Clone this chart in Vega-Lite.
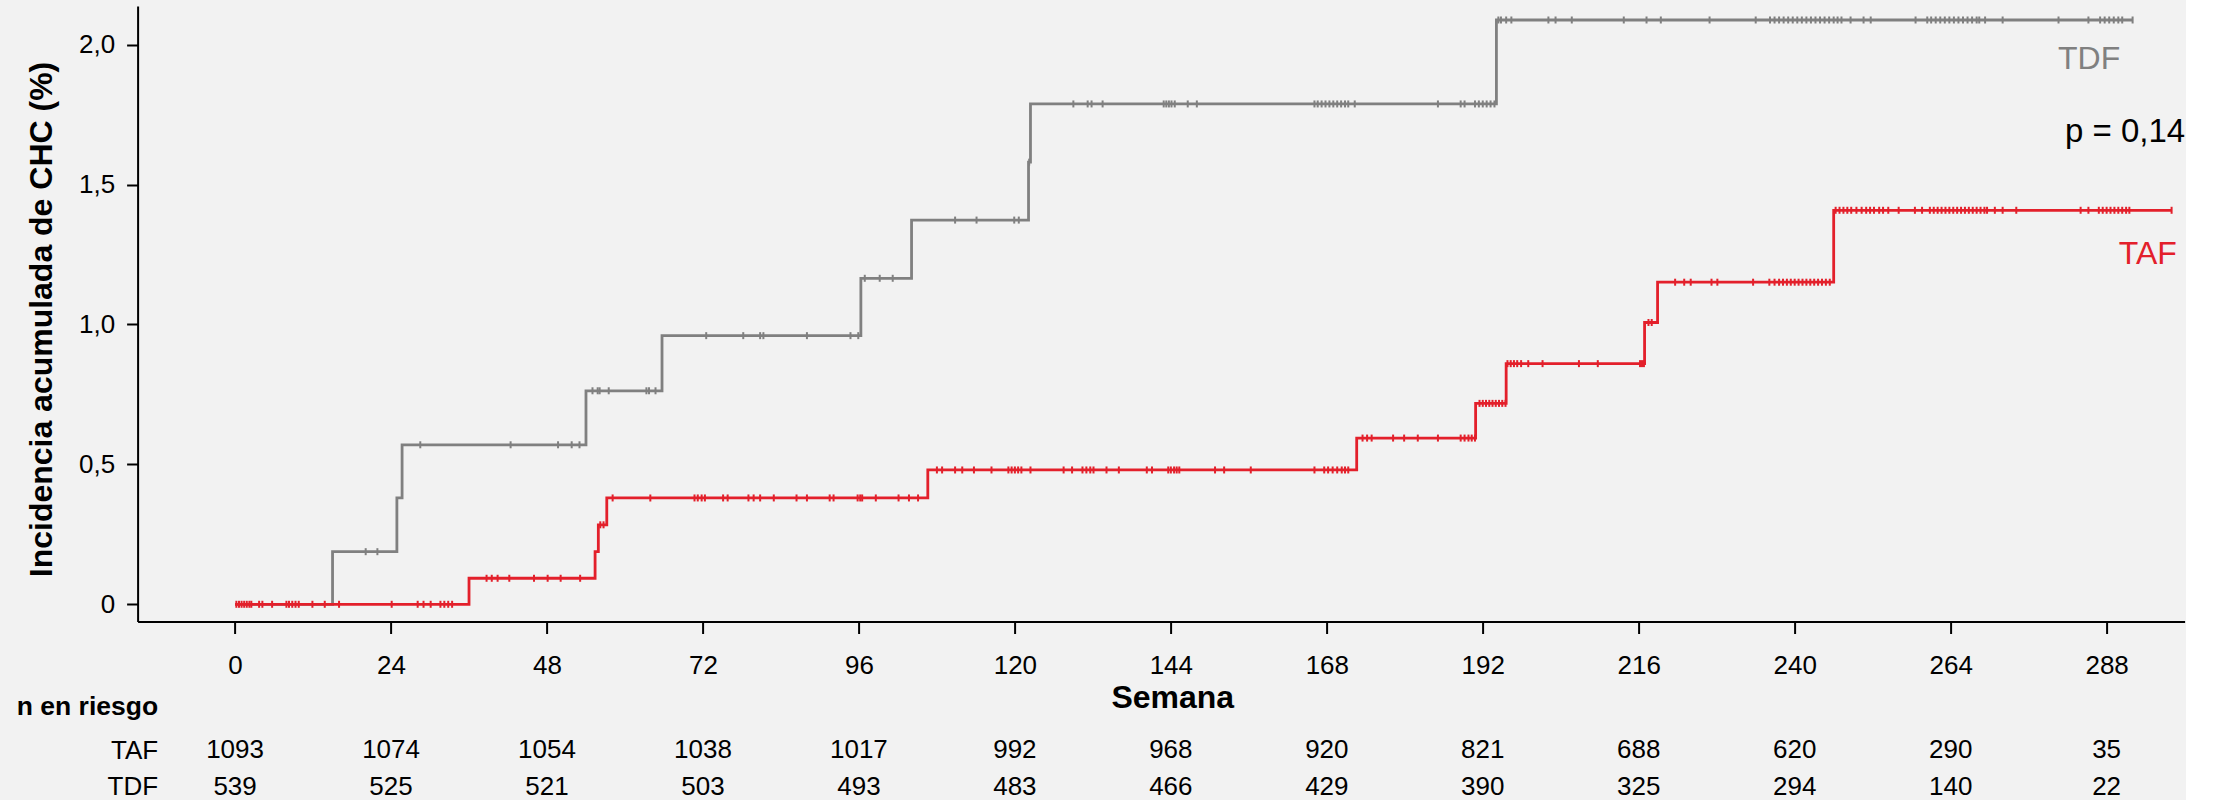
{
  "$schema": "https://vega.github.io/schema/vega-lite/v6.json",
  "background": "#f2f2f2",
  "padding": {"left": 15.6, "top": 6, "right": 0, "bottom": 0},
  "config": {
    "font": "Liberation Sans",
    "view": {"stroke": null},
    "axis": {"grid": false, "domainColor": "#000000", "tickColor": "#000000", "labelColor": "#000000", "titleColor": "#000000"}
  },
  "datasets": {
    "pasos": [
      {"grupo": "TDF", "semana": 0, "inc": 0},
      {"grupo": "TDF", "semana": 15.0, "inc": 0.188},
      {"grupo": "TDF", "semana": 24.9, "inc": 0.380},
      {"grupo": "TDF", "semana": 25.7, "inc": 0.570},
      {"grupo": "TDF", "semana": 54.0, "inc": 0.763},
      {"grupo": "TDF", "semana": 65.7, "inc": 0.960},
      {"grupo": "TDF", "semana": 96.3, "inc": 1.165},
      {"grupo": "TDF", "semana": 104.1, "inc": 1.373},
      {"grupo": "TDF", "semana": 122.1, "inc": 1.580},
      {"grupo": "TDF", "semana": 122.4, "inc": 1.788},
      {"grupo": "TDF", "semana": 194.1, "inc": 2.088},
      {"grupo": "TDF", "semana": 292.0, "inc": 2.088},
      {"grupo": "TAF", "semana": 0, "inc": 0},
      {"grupo": "TAF", "semana": 36.0, "inc": 0.093},
      {"grupo": "TAF", "semana": 55.4, "inc": 0.188},
      {"grupo": "TAF", "semana": 55.9, "inc": 0.284},
      {"grupo": "TAF", "semana": 57.2, "inc": 0.380},
      {"grupo": "TAF", "semana": 106.6, "inc": 0.480},
      {"grupo": "TAF", "semana": 172.6, "inc": 0.594},
      {"grupo": "TAF", "semana": 190.9, "inc": 0.718},
      {"grupo": "TAF", "semana": 195.6, "inc": 0.860},
      {"grupo": "TAF", "semana": 216.9, "inc": 1.007},
      {"grupo": "TAF", "semana": 218.9, "inc": 1.151},
      {"grupo": "TAF", "semana": 246.0, "inc": 1.408},
      {"grupo": "TAF", "semana": 298.0, "inc": 1.408}
    ],
    "censura": [
      {"grupo": "TDF", "semana": 20.1, "inc": 0.188}, {"grupo": "TDF", "semana": 21.9, "inc": 0.188},
      {"grupo": "TDF", "semana": 28.5, "inc": 0.570}, {"grupo": "TDF", "semana": 42.4, "inc": 0.570}, {"grupo": "TDF", "semana": 49.7, "inc": 0.570}, {"grupo": "TDF", "semana": 51.8, "inc": 0.570}, {"grupo": "TDF", "semana": 53.0, "inc": 0.570},
      {"grupo": "TDF", "semana": 55.0, "inc": 0.763}, {"grupo": "TDF", "semana": 55.8, "inc": 0.763}, {"grupo": "TDF", "semana": 56.1, "inc": 0.763}, {"grupo": "TDF", "semana": 57.5, "inc": 0.763}, {"grupo": "TDF", "semana": 63.3, "inc": 0.763}, {"grupo": "TDF", "semana": 63.7, "inc": 0.763}, {"grupo": "TDF", "semana": 64.7, "inc": 0.763},
      {"grupo": "TDF", "semana": 72.5, "inc": 0.960}, {"grupo": "TDF", "semana": 78.2, "inc": 0.960}, {"grupo": "TDF", "semana": 80.8, "inc": 0.960}, {"grupo": "TDF", "semana": 81.3, "inc": 0.960}, {"grupo": "TDF", "semana": 88.0, "inc": 0.960}, {"grupo": "TDF", "semana": 94.7, "inc": 0.960}, {"grupo": "TDF", "semana": 95.9, "inc": 0.960},
      {"grupo": "TDF", "semana": 96.9, "inc": 1.165}, {"grupo": "TDF", "semana": 99.2, "inc": 1.165}, {"grupo": "TDF", "semana": 101.2, "inc": 1.165},
      {"grupo": "TDF", "semana": 110.8, "inc": 1.373}, {"grupo": "TDF", "semana": 114.1, "inc": 1.373}, {"grupo": "TDF", "semana": 119.9, "inc": 1.373}, {"grupo": "TDF", "semana": 120.6, "inc": 1.373},
      {"grupo": "TDF", "semana": 122.2, "inc": 1.580},
      {"grupo": "TDF", "semana": 129.0, "inc": 1.788}, {"grupo": "TDF", "semana": 131.2, "inc": 1.788}, {"grupo": "TDF", "semana": 131.8, "inc": 1.788}, {"grupo": "TDF", "semana": 133.5, "inc": 1.788},
      {"grupo": "TDF", "semana": 142.9, "inc": 1.788}, {"grupo": "TDF", "semana": 143.3, "inc": 1.788}, {"grupo": "TDF", "semana": 143.7, "inc": 1.788}, {"grupo": "TDF", "semana": 144.1, "inc": 1.788}, {"grupo": "TDF", "semana": 144.6, "inc": 1.788},
      {"grupo": "TDF", "semana": 146.6, "inc": 1.788}, {"grupo": "TDF", "semana": 148.0, "inc": 1.788},
      {"grupo": "TDF", "semana": 166.1, "inc": 1.788}, {"grupo": "TDF", "semana": 166.6, "inc": 1.788}, {"grupo": "TDF", "semana": 167.2, "inc": 1.788}, {"grupo": "TDF", "semana": 167.8, "inc": 1.788}, {"grupo": "TDF", "semana": 168.4, "inc": 1.788}, {"grupo": "TDF", "semana": 169.0, "inc": 1.788}, {"grupo": "TDF", "semana": 169.6, "inc": 1.788}, {"grupo": "TDF", "semana": 170.2, "inc": 1.788}, {"grupo": "TDF", "semana": 170.8, "inc": 1.788}, {"grupo": "TDF", "semana": 171.3, "inc": 1.788},
      {"grupo": "TDF", "semana": 172.3, "inc": 1.788}, {"grupo": "TDF", "semana": 185.1, "inc": 1.788}, {"grupo": "TDF", "semana": 188.6, "inc": 1.788}, {"grupo": "TDF", "semana": 189.2, "inc": 1.788},
      {"grupo": "TDF", "semana": 190.8, "inc": 1.788}, {"grupo": "TDF", "semana": 191.4, "inc": 1.788}, {"grupo": "TDF", "semana": 192.0, "inc": 1.788}, {"grupo": "TDF", "semana": 192.6, "inc": 1.788}, {"grupo": "TDF", "semana": 193.2, "inc": 1.788}, {"grupo": "TDF", "semana": 193.8, "inc": 1.788},
      {"grupo": "TDF", "semana": 194.4, "inc": 2.088}, {"grupo": "TDF", "semana": 194.8, "inc": 2.088}, {"grupo": "TDF", "semana": 195.6, "inc": 2.088}, {"grupo": "TDF", "semana": 196.4, "inc": 2.088}, {"grupo": "TDF", "semana": 202.1, "inc": 2.088}, {"grupo": "TDF", "semana": 203.2, "inc": 2.088}, {"grupo": "TDF", "semana": 205.7, "inc": 2.088}, {"grupo": "TDF", "semana": 213.7, "inc": 2.088}, {"grupo": "TDF", "semana": 217.2, "inc": 2.088}, {"grupo": "TDF", "semana": 219.4, "inc": 2.088}, {"grupo": "TDF", "semana": 226.9, "inc": 2.088}, {"grupo": "TDF", "semana": 234.0, "inc": 2.088},
      {"grupo": "TDF", "semana": 236.2, "inc": 2.088}, {"grupo": "TDF", "semana": 236.9, "inc": 2.088}, {"grupo": "TDF", "semana": 237.6, "inc": 2.088}, {"grupo": "TDF", "semana": 238.3, "inc": 2.088}, {"grupo": "TDF", "semana": 239.0, "inc": 2.088}, {"grupo": "TDF", "semana": 239.7, "inc": 2.088}, {"grupo": "TDF", "semana": 240.4, "inc": 2.088}, {"grupo": "TDF", "semana": 241.1, "inc": 2.088}, {"grupo": "TDF", "semana": 241.8, "inc": 2.088}, {"grupo": "TDF", "semana": 242.5, "inc": 2.088}, {"grupo": "TDF", "semana": 243.2, "inc": 2.088}, {"grupo": "TDF", "semana": 243.9, "inc": 2.088}, {"grupo": "TDF", "semana": 244.6, "inc": 2.088}, {"grupo": "TDF", "semana": 245.3, "inc": 2.088}, {"grupo": "TDF", "semana": 246.0, "inc": 2.088}, {"grupo": "TDF", "semana": 246.6, "inc": 2.088}, {"grupo": "TDF", "semana": 247.2, "inc": 2.088},
      {"grupo": "TDF", "semana": 248.6, "inc": 2.088}, {"grupo": "TDF", "semana": 250.6, "inc": 2.088}, {"grupo": "TDF", "semana": 251.7, "inc": 2.088}, {"grupo": "TDF", "semana": 258.6, "inc": 2.088},
      {"grupo": "TDF", "semana": 260.4, "inc": 2.088}, {"grupo": "TDF", "semana": 261.0, "inc": 2.088}, {"grupo": "TDF", "semana": 261.7, "inc": 2.088}, {"grupo": "TDF", "semana": 262.4, "inc": 2.088}, {"grupo": "TDF", "semana": 263.1, "inc": 2.088}, {"grupo": "TDF", "semana": 263.8, "inc": 2.088}, {"grupo": "TDF", "semana": 264.5, "inc": 2.088}, {"grupo": "TDF", "semana": 265.2, "inc": 2.088}, {"grupo": "TDF", "semana": 265.9, "inc": 2.088}, {"grupo": "TDF", "semana": 266.6, "inc": 2.088}, {"grupo": "TDF", "semana": 267.3, "inc": 2.088}, {"grupo": "TDF", "semana": 268.0, "inc": 2.088}, {"grupo": "TDF", "semana": 268.4, "inc": 2.088},
      {"grupo": "TDF", "semana": 269.3, "inc": 2.088}, {"grupo": "TDF", "semana": 272.0, "inc": 2.088}, {"grupo": "TDF", "semana": 280.6, "inc": 2.088}, {"grupo": "TDF", "semana": 285.2, "inc": 2.088},
      {"grupo": "TDF", "semana": 287.0, "inc": 2.088}, {"grupo": "TDF", "semana": 287.7, "inc": 2.088}, {"grupo": "TDF", "semana": 288.4, "inc": 2.088}, {"grupo": "TDF", "semana": 289.1, "inc": 2.088}, {"grupo": "TDF", "semana": 289.8, "inc": 2.088}, {"grupo": "TDF", "semana": 290.4, "inc": 2.088}, {"grupo": "TDF", "semana": 292.0, "inc": 2.088},

      {"grupo": "TAF", "semana": 0.2, "inc": 0}, {"grupo": "TAF", "semana": 0.6, "inc": 0}, {"grupo": "TAF", "semana": 1.0, "inc": 0}, {"grupo": "TAF", "semana": 1.4, "inc": 0}, {"grupo": "TAF", "semana": 1.8, "inc": 0}, {"grupo": "TAF", "semana": 2.2, "inc": 0}, {"grupo": "TAF", "semana": 2.5, "inc": 0}, {"grupo": "TAF", "semana": 3.7, "inc": 0}, {"grupo": "TAF", "semana": 4.2, "inc": 0}, {"grupo": "TAF", "semana": 5.7, "inc": 0}, {"grupo": "TAF", "semana": 7.9, "inc": 0}, {"grupo": "TAF", "semana": 8.3, "inc": 0}, {"grupo": "TAF", "semana": 8.8, "inc": 0}, {"grupo": "TAF", "semana": 9.3, "inc": 0}, {"grupo": "TAF", "semana": 9.8, "inc": 0}, {"grupo": "TAF", "semana": 11.9, "inc": 0}, {"grupo": "TAF", "semana": 13.8, "inc": 0}, {"grupo": "TAF", "semana": 16.0, "inc": 0}, {"grupo": "TAF", "semana": 24.1, "inc": 0}, {"grupo": "TAF", "semana": 28.1, "inc": 0}, {"grupo": "TAF", "semana": 29.0, "inc": 0}, {"grupo": "TAF", "semana": 30.1, "inc": 0}, {"grupo": "TAF", "semana": 31.6, "inc": 0}, {"grupo": "TAF", "semana": 32.2, "inc": 0}, {"grupo": "TAF", "semana": 32.8, "inc": 0}, {"grupo": "TAF", "semana": 33.4, "inc": 0},
      {"grupo": "TAF", "semana": 38.7, "inc": 0.093}, {"grupo": "TAF", "semana": 39.5, "inc": 0.093}, {"grupo": "TAF", "semana": 40.4, "inc": 0.093}, {"grupo": "TAF", "semana": 42.2, "inc": 0.093}, {"grupo": "TAF", "semana": 46.0, "inc": 0.093}, {"grupo": "TAF", "semana": 48.1, "inc": 0.093}, {"grupo": "TAF", "semana": 50.1, "inc": 0.093}, {"grupo": "TAF", "semana": 53.1, "inc": 0.093},
      {"grupo": "TAF", "semana": 56.2, "inc": 0.284}, {"grupo": "TAF", "semana": 56.7, "inc": 0.284},
      {"grupo": "TAF", "semana": 58.1, "inc": 0.380}, {"grupo": "TAF", "semana": 63.9, "inc": 0.380}, {"grupo": "TAF", "semana": 70.7, "inc": 0.380}, {"grupo": "TAF", "semana": 71.2, "inc": 0.380}, {"grupo": "TAF", "semana": 71.8, "inc": 0.380}, {"grupo": "TAF", "semana": 72.3, "inc": 0.380}, {"grupo": "TAF", "semana": 75.1, "inc": 0.380}, {"grupo": "TAF", "semana": 75.8, "inc": 0.380}, {"grupo": "TAF", "semana": 79.0, "inc": 0.380}, {"grupo": "TAF", "semana": 79.8, "inc": 0.380}, {"grupo": "TAF", "semana": 80.8, "inc": 0.380}, {"grupo": "TAF", "semana": 82.9, "inc": 0.380}, {"grupo": "TAF", "semana": 86.4, "inc": 0.380}, {"grupo": "TAF", "semana": 88.0, "inc": 0.380}, {"grupo": "TAF", "semana": 91.5, "inc": 0.380}, {"grupo": "TAF", "semana": 92.1, "inc": 0.380}, {"grupo": "TAF", "semana": 95.8, "inc": 0.380}, {"grupo": "TAF", "semana": 96.2, "inc": 0.380}, {"grupo": "TAF", "semana": 96.5, "inc": 0.380}, {"grupo": "TAF", "semana": 98.6, "inc": 0.380}, {"grupo": "TAF", "semana": 102.1, "inc": 0.380}, {"grupo": "TAF", "semana": 103.7, "inc": 0.380}, {"grupo": "TAF", "semana": 105.1, "inc": 0.380},
      {"grupo": "TAF", "semana": 108.0, "inc": 0.480}, {"grupo": "TAF", "semana": 108.8, "inc": 0.480}, {"grupo": "TAF", "semana": 110.8, "inc": 0.480}, {"grupo": "TAF", "semana": 111.9, "inc": 0.480}, {"grupo": "TAF", "semana": 113.7, "inc": 0.480}, {"grupo": "TAF", "semana": 116.4, "inc": 0.480}, {"grupo": "TAF", "semana": 119.0, "inc": 0.480}, {"grupo": "TAF", "semana": 119.5, "inc": 0.480}, {"grupo": "TAF", "semana": 120.0, "inc": 0.480}, {"grupo": "TAF", "semana": 120.5, "inc": 0.480}, {"grupo": "TAF", "semana": 121.0, "inc": 0.480}, {"grupo": "TAF", "semana": 122.4, "inc": 0.480}, {"grupo": "TAF", "semana": 127.5, "inc": 0.480}, {"grupo": "TAF", "semana": 128.8, "inc": 0.480}, {"grupo": "TAF", "semana": 130.4, "inc": 0.480}, {"grupo": "TAF", "semana": 131.0, "inc": 0.480}, {"grupo": "TAF", "semana": 131.6, "inc": 0.480}, {"grupo": "TAF", "semana": 132.1, "inc": 0.480}, {"grupo": "TAF", "semana": 134.1, "inc": 0.480}, {"grupo": "TAF", "semana": 136.0, "inc": 0.480}, {"grupo": "TAF", "semana": 140.3, "inc": 0.480}, {"grupo": "TAF", "semana": 141.1, "inc": 0.480}, {"grupo": "TAF", "semana": 143.6, "inc": 0.480}, {"grupo": "TAF", "semana": 144.0, "inc": 0.480}, {"grupo": "TAF", "semana": 144.5, "inc": 0.480}, {"grupo": "TAF", "semana": 144.9, "inc": 0.480}, {"grupo": "TAF", "semana": 145.3, "inc": 0.480}, {"grupo": "TAF", "semana": 150.8, "inc": 0.480}, {"grupo": "TAF", "semana": 152.2, "inc": 0.480}, {"grupo": "TAF", "semana": 156.3, "inc": 0.480}, {"grupo": "TAF", "semana": 166.1, "inc": 0.480}, {"grupo": "TAF", "semana": 167.6, "inc": 0.480}, {"grupo": "TAF", "semana": 168.2, "inc": 0.480}, {"grupo": "TAF", "semana": 168.9, "inc": 0.480}, {"grupo": "TAF", "semana": 169.6, "inc": 0.480}, {"grupo": "TAF", "semana": 170.3, "inc": 0.480}, {"grupo": "TAF", "semana": 170.8, "inc": 0.480}, {"grupo": "TAF", "semana": 171.3, "inc": 0.480},
      {"grupo": "TAF", "semana": 173.5, "inc": 0.594}, {"grupo": "TAF", "semana": 174.2, "inc": 0.594}, {"grupo": "TAF", "semana": 174.9, "inc": 0.594}, {"grupo": "TAF", "semana": 178.2, "inc": 0.594}, {"grupo": "TAF", "semana": 179.9, "inc": 0.594}, {"grupo": "TAF", "semana": 182.0, "inc": 0.594}, {"grupo": "TAF", "semana": 185.1, "inc": 0.594}, {"grupo": "TAF", "semana": 188.6, "inc": 0.594}, {"grupo": "TAF", "semana": 189.2, "inc": 0.594}, {"grupo": "TAF", "semana": 189.8, "inc": 0.594}, {"grupo": "TAF", "semana": 190.3, "inc": 0.594}, {"grupo": "TAF", "semana": 190.8, "inc": 0.594},
      {"grupo": "TAF", "semana": 191.5, "inc": 0.718}, {"grupo": "TAF", "semana": 192.0, "inc": 0.718}, {"grupo": "TAF", "semana": 192.5, "inc": 0.718}, {"grupo": "TAF", "semana": 193.0, "inc": 0.718}, {"grupo": "TAF", "semana": 193.5, "inc": 0.718}, {"grupo": "TAF", "semana": 194.0, "inc": 0.718}, {"grupo": "TAF", "semana": 194.5, "inc": 0.718}, {"grupo": "TAF", "semana": 195.0, "inc": 0.718}, {"grupo": "TAF", "semana": 195.5, "inc": 0.718},
      {"grupo": "TAF", "semana": 195.8, "inc": 0.860}, {"grupo": "TAF", "semana": 196.3, "inc": 0.860}, {"grupo": "TAF", "semana": 196.8, "inc": 0.860}, {"grupo": "TAF", "semana": 197.3, "inc": 0.860}, {"grupo": "TAF", "semana": 197.9, "inc": 0.860}, {"grupo": "TAF", "semana": 199.0, "inc": 0.860}, {"grupo": "TAF", "semana": 201.2, "inc": 0.860}, {"grupo": "TAF", "semana": 206.8, "inc": 0.860}, {"grupo": "TAF", "semana": 209.7, "inc": 0.860}, {"grupo": "TAF", "semana": 216.2, "inc": 0.860}, {"grupo": "TAF", "semana": 216.5, "inc": 0.860}, {"grupo": "TAF", "semana": 216.8, "inc": 0.860},
      {"grupo": "TAF", "semana": 217.5, "inc": 1.007}, {"grupo": "TAF", "semana": 218.0, "inc": 1.007},
      {"grupo": "TAF", "semana": 221.6, "inc": 1.151}, {"grupo": "TAF", "semana": 223.0, "inc": 1.151}, {"grupo": "TAF", "semana": 224.0, "inc": 1.151}, {"grupo": "TAF", "semana": 227.2, "inc": 1.151}, {"grupo": "TAF", "semana": 228.1, "inc": 1.151}, {"grupo": "TAF", "semana": 233.6, "inc": 1.151}, {"grupo": "TAF", "semana": 236.1, "inc": 1.151}, {"grupo": "TAF", "semana": 236.9, "inc": 1.151}, {"grupo": "TAF", "semana": 237.6, "inc": 1.151}, {"grupo": "TAF", "semana": 238.2, "inc": 1.151}, {"grupo": "TAF", "semana": 238.8, "inc": 1.151}, {"grupo": "TAF", "semana": 239.4, "inc": 1.151}, {"grupo": "TAF", "semana": 240.0, "inc": 1.151}, {"grupo": "TAF", "semana": 240.6, "inc": 1.151}, {"grupo": "TAF", "semana": 241.2, "inc": 1.151}, {"grupo": "TAF", "semana": 241.8, "inc": 1.151}, {"grupo": "TAF", "semana": 242.4, "inc": 1.151}, {"grupo": "TAF", "semana": 243.0, "inc": 1.151}, {"grupo": "TAF", "semana": 243.6, "inc": 1.151}, {"grupo": "TAF", "semana": 244.2, "inc": 1.151}, {"grupo": "TAF", "semana": 244.8, "inc": 1.151}, {"grupo": "TAF", "semana": 245.4, "inc": 1.151},
      {"grupo": "TAF", "semana": 246.3, "inc": 1.408}, {"grupo": "TAF", "semana": 246.9, "inc": 1.408}, {"grupo": "TAF", "semana": 247.5, "inc": 1.408}, {"grupo": "TAF", "semana": 248.1, "inc": 1.408}, {"grupo": "TAF", "semana": 248.7, "inc": 1.408}, {"grupo": "TAF", "semana": 249.5, "inc": 1.408}, {"grupo": "TAF", "semana": 250.3, "inc": 1.408}, {"grupo": "TAF", "semana": 251.0, "inc": 1.408}, {"grupo": "TAF", "semana": 251.6, "inc": 1.408}, {"grupo": "TAF", "semana": 252.2, "inc": 1.408}, {"grupo": "TAF", "semana": 253.0, "inc": 1.408}, {"grupo": "TAF", "semana": 253.6, "inc": 1.408}, {"grupo": "TAF", "semana": 254.4, "inc": 1.408}, {"grupo": "TAF", "semana": 256.0, "inc": 1.408}, {"grupo": "TAF", "semana": 258.5, "inc": 1.408}, {"grupo": "TAF", "semana": 259.6, "inc": 1.408},
      {"grupo": "TAF", "semana": 260.8, "inc": 1.408}, {"grupo": "TAF", "semana": 261.4, "inc": 1.408}, {"grupo": "TAF", "semana": 262.0, "inc": 1.408}, {"grupo": "TAF", "semana": 262.6, "inc": 1.408}, {"grupo": "TAF", "semana": 263.2, "inc": 1.408}, {"grupo": "TAF", "semana": 263.8, "inc": 1.408}, {"grupo": "TAF", "semana": 264.4, "inc": 1.408}, {"grupo": "TAF", "semana": 265.0, "inc": 1.408}, {"grupo": "TAF", "semana": 265.6, "inc": 1.408}, {"grupo": "TAF", "semana": 266.2, "inc": 1.408}, {"grupo": "TAF", "semana": 266.8, "inc": 1.408}, {"grupo": "TAF", "semana": 267.4, "inc": 1.408}, {"grupo": "TAF", "semana": 268.0, "inc": 1.408}, {"grupo": "TAF", "semana": 268.6, "inc": 1.408}, {"grupo": "TAF", "semana": 269.2, "inc": 1.408}, {"grupo": "TAF", "semana": 269.6, "inc": 1.408},
      {"grupo": "TAF", "semana": 270.8, "inc": 1.408}, {"grupo": "TAF", "semana": 272.0, "inc": 1.408}, {"grupo": "TAF", "semana": 274.1, "inc": 1.408}, {"grupo": "TAF", "semana": 284.0, "inc": 1.408}, {"grupo": "TAF", "semana": 285.2, "inc": 1.408},
      {"grupo": "TAF", "semana": 286.8, "inc": 1.408}, {"grupo": "TAF", "semana": 287.4, "inc": 1.408}, {"grupo": "TAF", "semana": 288.0, "inc": 1.408}, {"grupo": "TAF", "semana": 288.6, "inc": 1.408}, {"grupo": "TAF", "semana": 289.2, "inc": 1.408}, {"grupo": "TAF", "semana": 289.8, "inc": 1.408}, {"grupo": "TAF", "semana": 290.4, "inc": 1.408}, {"grupo": "TAF", "semana": 291.0, "inc": 1.408}, {"grupo": "TAF", "semana": 291.5, "inc": 1.408}, {"grupo": "TAF", "semana": 298.0, "inc": 1.408}
    ],
    "riesgo": [
      {"grupo": "TAF", "semana": 0, "n": 1093}, {"grupo": "TAF", "semana": 24, "n": 1074}, {"grupo": "TAF", "semana": 48, "n": 1054}, {"grupo": "TAF", "semana": 72, "n": 1038}, {"grupo": "TAF", "semana": 96, "n": 1017}, {"grupo": "TAF", "semana": 120, "n": 992}, {"grupo": "TAF", "semana": 144, "n": 968}, {"grupo": "TAF", "semana": 168, "n": 920}, {"grupo": "TAF", "semana": 192, "n": 821}, {"grupo": "TAF", "semana": 216, "n": 688}, {"grupo": "TAF", "semana": 240, "n": 620}, {"grupo": "TAF", "semana": 264, "n": 290}, {"grupo": "TAF", "semana": 288, "n": 35},
      {"grupo": "TDF", "semana": 0, "n": 539}, {"grupo": "TDF", "semana": 24, "n": 525}, {"grupo": "TDF", "semana": 48, "n": 521}, {"grupo": "TDF", "semana": 72, "n": 503}, {"grupo": "TDF", "semana": 96, "n": 493}, {"grupo": "TDF", "semana": 120, "n": 483}, {"grupo": "TDF", "semana": 144, "n": 466}, {"grupo": "TDF", "semana": 168, "n": 429}, {"grupo": "TDF", "semana": 192, "n": 390}, {"grupo": "TDF", "semana": 216, "n": 325}, {"grupo": "TDF", "semana": 240, "n": 294}, {"grupo": "TDF", "semana": 264, "n": 140}, {"grupo": "TDF", "semana": 288, "n": 22}
    ],
    "etiquetaTDF": [{"etiqueta": "TDF"}],
    "etiquetaTAF": [{"etiqueta": "TAF"}],
    "etiquetaP": [{"etiqueta": "p = 0,14"}]
  },
  "bounds": "flush",
  "spacing": 128.2,
  "vconcat": [
    {
      "width": 2047,
      "height": 615.5,
      "layer": [
        {
          "data": {"name": "pasos"},
          "transform": [{"filter": "datum.grupo == 'TDF'"}],
          "mark": {"type": "line", "interpolate": "step-after", "strokeWidth": 2.8, "color": "#808080"},
          "encoding": {
            "x": {
              "field": "semana", "type": "quantitative",
              "scale": {"domain": [-15, 300], "nice": false, "zero": false},
              "axis": {
                "values": [0, 24, 48, 72, 96, 120, 144, 168, 192, 216, 240, 264, 288],
                "format": "d",
                "title": "Semana", "titleFontSize": 32, "titleFontWeight": "bold",
                "titleX": 1034.7, "titleY": 85.8, "titleBaseline": "alphabetic", "titleAlign": "center",
                "labelFontSize": 26, "labelPadding": 19, "labelFlush": false, "labelOverlap": false,
                "tickSize": 12, "tickWidth": 2, "domainWidth": 2
              }
            },
            "y": {
              "field": "inc", "type": "quantitative",
              "scale": {"domain": [-0.0615, 2.138], "nice": false, "zero": false},
              "axis": {
                "values": [0, 0.5, 1, 1.5, 2],
                "labelExpr": "datum.value == 0 ? '0' : replace(format(datum.value, '.1f'), '.', ',')",
                "title": "Incidencia acumulada de CHC (%)", "titleFontSize": 32, "titleFontWeight": "bold",
                "titleAngle": 270, "titleX": -86.5, "titleY": 313, "titleBaseline": "alphabetic", "titleAlign": "center",
                "labelFontSize": 26, "labelPadding": 12, "labelFlush": false, "labelOverlap": false,
                "tickSize": 11, "tickWidth": 2, "domainWidth": 2
              }
            },
            "order": {"field": "semana", "type": "quantitative"}
          }
        },
        {
          "data": {"name": "censura"},
          "transform": [{"filter": "datum.grupo == 'TDF'"}],
          "mark": {"type": "tick", "orient": "vertical", "size": 7, "thickness": 2, "color": "#808080", "opacity": 1},
          "encoding": {
            "x": {"field": "semana", "type": "quantitative"},
            "y": {"field": "inc", "type": "quantitative"}
          }
        },
        {
          "data": {"name": "pasos"},
          "transform": [{"filter": "datum.grupo == 'TAF'"}],
          "mark": {"type": "line", "interpolate": "step-after", "strokeWidth": 2.8, "color": "#e3202b"},
          "encoding": {
            "x": {"field": "semana", "type": "quantitative"},
            "y": {"field": "inc", "type": "quantitative"},
            "order": {"field": "semana", "type": "quantitative"}
          }
        },
        {
          "data": {"name": "censura"},
          "transform": [{"filter": "datum.grupo == 'TAF'"}],
          "mark": {"type": "tick", "orient": "vertical", "size": 7, "thickness": 2, "color": "#e3202b", "opacity": 1},
          "encoding": {
            "x": {"field": "semana", "type": "quantitative"},
            "y": {"field": "inc", "type": "quantitative"}
          }
        },
        {
          "data": {"name": "etiquetaTDF"},
          "mark": {"type": "text", "fontSize": 32, "color": "#808080", "align": "right", "baseline": "alphabetic", "clip": false},
          "encoding": {
            "x": {"datum": 290.1, "type": "quantitative"},
            "y": {"datum": 1.913, "type": "quantitative"},
            "text": {"field": "etiqueta", "type": "nominal"}
          }
        },
        {
          "data": {"name": "etiquetaP"},
          "mark": {"type": "text", "fontSize": 33, "color": "#000000", "align": "left", "baseline": "alphabetic", "clip": false},
          "encoding": {
            "x": {"datum": 281.6, "type": "quantitative"},
            "y": {"datum": 1.653, "type": "quantitative"},
            "text": {"field": "etiqueta", "type": "nominal"}
          }
        },
        {
          "data": {"name": "etiquetaTAF"},
          "mark": {"type": "text", "fontSize": 32, "color": "#e3202b", "align": "right", "baseline": "alphabetic", "clip": false},
          "encoding": {
            "x": {"datum": 298.8, "type": "quantitative"},
            "y": {"datum": 1.216, "type": "quantitative"},
            "text": {"field": "etiqueta", "type": "nominal"}
          }
        }
      ]
    },
    {
      "width": 2047,
      "height": 36.7,
      "data": {"name": "riesgo"},
      "mark": {"type": "text", "fontSize": 26, "align": "center", "baseline": "middle", "color": "#000000"},
      "encoding": {
        "x": {"field": "semana", "type": "quantitative", "scale": {"domain": [-15, 300], "nice": false, "zero": false}, "axis": null},
        "y": {
          "field": "grupo", "type": "nominal",
          "scale": {"type": "point", "domain": ["TAF", "TDF"], "padding": 0},
          "axis": {
            "offset": -20, "ticks": false, "domain": false, "labelPadding": 0, "labelFontSize": 26,
            "title": "n en riesgo", "titleAngle": 0, "titleAlign": "right", "titleBaseline": "alphabetic",
            "titleX": 0, "titleY": -35.7, "titleFontSize": 26.5, "titleFontWeight": "bold"
          }
        },
        "text": {"field": "n", "type": "quantitative", "format": "d"}
      }
    }
  ],
  "resolve": {"scale": {"x": "independent", "y": "independent"}}
}
